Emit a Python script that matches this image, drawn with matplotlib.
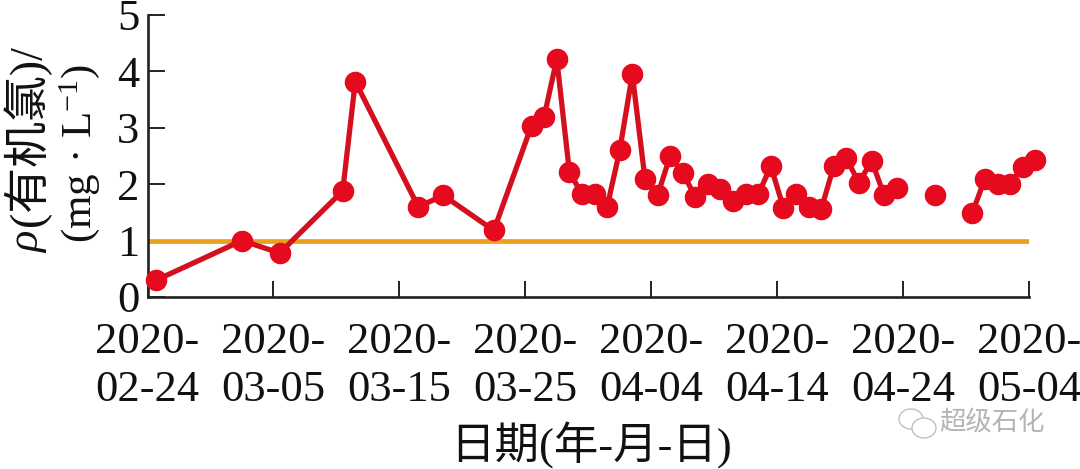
import numpy as np
import matplotlib
matplotlib.use('Agg')
import matplotlib.pyplot as plt
from matplotlib.patches import Ellipse

plt.rcParams['font.family'] = ['Liberation Serif', 'Noto Sans CJK SC']
plt.rcParams['mathtext.fontset'] = 'custom'
plt.rcParams['mathtext.rm'] = 'Liberation Serif'
plt.rcParams['mathtext.it'] = 'Liberation Serif:italic'

# days since 2020-02-24, nan breaks the line
days = [0.2, 7, 10, 15, 16, 21, 23, 27, 30, 31, 32, 33, 34, 35, 36, 37, 38, 39,
        40, 41, 42, 43, 44, 45, 46, 47, 48, 49, 50, 51, 52, 53, 54, 55, 56, 57,
        58, 59, 60, 62, 64, 65, 66, 67, 68, 69, 70]
rho = [0.3, 1.0, 0.78, 1.88, 3.82, 1.6, 1.8, 1.18, 3.04, 3.2, 4.22, 2.22, 1.82,
       1.82, 1.6, 2.6, 3.95, 2.1, 1.8, 2.5, 2.2, 1.78, 2.0, 1.92, 1.7, 1.82,
       1.82, 2.32, 1.58, 1.82, 1.6, 1.56, 2.32, 2.46, 2.02, 2.42, 1.8, 1.93, np.nan,
       1.8, np.nan, 1.49, 2.1, 2.0, 2.01, 2.31, 2.43]
limit = 1.0
tick_days = [0, 10, 20, 30, 40, 50, 60, 70]
tick_labels = ['2020-\n02-24', '2020-\n03-05', '2020-\n03-15', '2020-\n03-25',
               '2020-\n04-04', '2020-\n04-14', '2020-\n04-24', '2020-\n05-04']
y_ticks = [0, 1, 2, 3, 4, 5]

W, H = 1080, 469
fig = plt.figure(figsize=(W / 100, H / 100), dpi=100)
ax = fig.add_axes([147.5 / W, 1 - 297 / H, (1029 - 147.5) / W, (297 - 15) / H])

ax.hlines(limit, 0, 70, color='#E8A01E', lw=3.4, zorder=2)
ax.plot(np.array(days) + 0.5, rho, color='#D5101E', lw=3.8, marker='o', ms=14.5,
        mfc='#E60A1E', mec='#E60A1E', clip_on=False, zorder=3)

ax.set_xlim(0, 70)
ax.set_ylim(0, 5)
ax.set_xticks(tick_days)
ax.set_xticklabels(tick_labels, fontsize=32, linespacing=1.26, color='#111111')
ax.set_yticks(y_ticks)
ax.tick_params(axis='x', direction='in', length=11.5, width=1.4, pad=18, color='#222222')
ax.tick_params(axis='y', direction='in', length=12.5, width=1.4, pad=6, labelsize=32,
               labelcolor='#111111', color='#222222')
for s in ['top', 'right']:
    ax.spines[s].set_visible(False)
for s in ['left', 'bottom']:
    ax.spines[s].set_linewidth(1.9)
    ax.spines[s].set_color('#222222')

fig.text(591 / W, 1 - 445 / H, '日期(年-月-日)', fontsize=32, ha='center', va='center', color='#111111')

fig.text(28 / W, 1 - 253 / H, 'ρ', fontsize=32, style='italic', rotation=90, ha='center', va='bottom', color='#111111')
fig.text(27 / W, 1 - 226 / H, '(有机氯)/', fontsize=33, rotation=90, ha='center', va='bottom', color='#111111')
fig.text(80 / W, 1 - 243 / H, r'(mg · L$^{-1}$)', fontsize=31, rotation=90, ha='center', va='bottom', color='#111111')

# watermark
fig.text(992 / W, 1 - 423 / H, '超级石化', fontsize=19, ha='center', va='center', color='#B5B5B5')
for cx, cy, w, h in [(911, 419, 24, 20), (924, 428, 24, 20)]:
    fig.add_artist(Ellipse((cx / W, 1 - cy / H), w / W, h / H, fc='white', ec='#C0C0C0',
                           lw=1, transform=fig.transFigure))

fig.savefig('out.png', dpi=100)
